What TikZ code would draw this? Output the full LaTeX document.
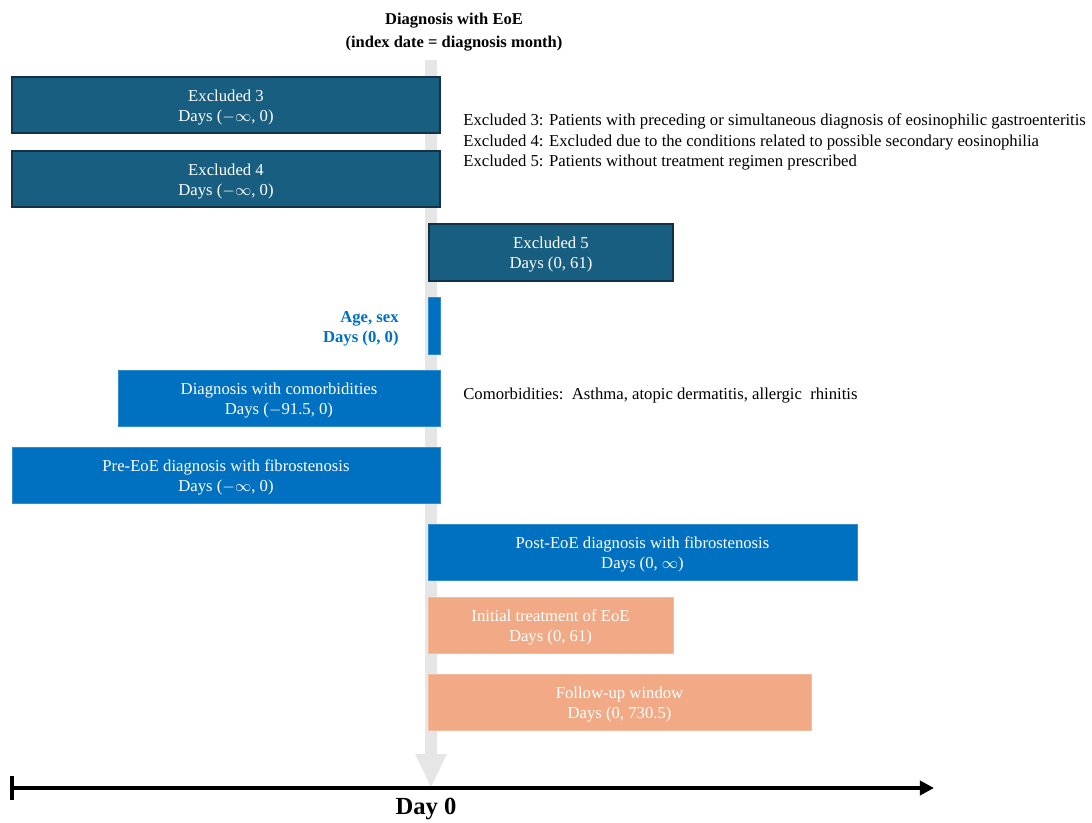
\documentclass[tikz,border=0pt]{standalone}
\usepackage{fontspec}
\setmainfont{Liberation Serif}
\usetikzlibrary{fit,arrows.meta}
\definecolor{exc}{RGB}{23,94,128}
\definecolor{excb}{RGB}{20,50,70}
\definecolor{cblue}{RGB}{0,112,192}
\definecolor{salmon}{RGB}{241,170,133}
\definecolor{shaft}{RGB}{230,230,230}
\tikzset{
  bx/.style={inner sep=0pt},
  bxt/.style={inner sep=0pt, align=center, text=white, yshift=-1.2pt, font=\fontsize{9.5}{11.3}\selectfont},
  exbox/.style={bx, fill=exc, draw=excb, line width=0.8pt},
  bluebox/.style={bx, fill=cblue, draw=cblue!80!white, line width=0.4pt},
  salbox/.style={bx, fill=salmon, draw=salmon!80!white, line width=0.4pt},
  note/.style={anchor=west, align=left, font=\fontsize{9.5}{11.7}\selectfont, inner sep=0pt},
  ttl/.style={font=\bfseries\fontsize{9.4}{13.2}\selectfont, align=center, inner sep=0pt},
}
\begin{document}
\begin{tikzpicture}[x=0.02cm,y=-0.02cm]
\useasboundingbox (0,0) rectangle (1092,822);
% grey index-date arrow
\fill[shaft] (425,60) -- (437,60) -- (437,754) -- (447,754) -- (431,787) -- (415,754) -- (425,754) -- cycle;
% title
\node[ttl] (title) at (454,32) {Diagnosis with EoE\\(index date = diagnosis month)};
% boxes
\node[exbox, fit={(12,77)(440,133)}] (ex3) {};
\node[bxt] (ex3t) at (ex3.center) {Excluded 3\\Days ($-\infty$, 0)};
\node[exbox, fit={(12,151)(440,207)}] (ex4) {};
\node[bxt] (ex4t) at (ex4.center) {Excluded 4\\Days ($-\infty$, 0)};
\node[exbox, fit={(429,224)(673,281)}] (ex5) {};
\node[bxt] (ex5t) at (ex5.center) {Excluded 5\\Days (0, 61)};
\node[bluebox, fit={(428,297)(440,354)}] (age) {};
\node[anchor=east, align=right, inner sep=0pt, text=cblue, font=\bfseries\fontsize{9.5}{11.3}\selectfont] (agelbl) at (399,329) {Age, sex\\Days (0, 0)};
\node[bluebox, fit={(118,370)(440,426)}] (com) {};
\node[bxt] (comt) at (com.center) {Diagnosis with comorbidities\\Days ($-$91.5, 0)};
\node[bluebox, fit={(12,447)(440,503)}] (pre) {};
\node[bxt] (pret) at (pre.center) {Pre-EoE diagnosis with fibrostenosis\\Days ($-\infty$, 0)};
\node[bluebox, fit={(428,524)(857,580)}] (post) {};
\node[bxt] (postt) at (post.center) {Post-EoE diagnosis with fibrostenosis\\Days (0, $\infty$)};
\node[salbox, fit={(428,597)(673,653)}] (init) {};
\node[bxt] (initt) at (init.center) {Initial treatment of EoE\\Days (0, 61)};
\node[salbox, fit={(428,674)(811,730)}] (fu) {};
\node[bxt] (fut) at (fu.center) {Follow-up window\\Days (0, 730.5)};
% notes
\node[note] (notes) at (463,142) {Excluded 3: Patients with preceding or simultaneous diagnosis of eosinophilic gastroenteritis\\Excluded 4: Excluded due to the conditions related to possible secondary eosinophilia\\Excluded 5: Patients without treatment regimen prescribed};
\node[note] (comnote) at (463,396) {Comorbidities:\ \ Asthma, atopic dermatitis, allergic\ \ rhinitis};
% timeline
\coordinate (t0) at (12,788);
\coordinate (t1) at (934,788);
\draw[line width=2.2pt, -{Triangle[length=8pt,width=8pt]}] (t0) -- (t1);
\draw[line width=2.2pt] (12,776) -- (12,800);
\node[ttl, font=\bfseries\fontsize{14}{16}\selectfont] (day0) at (426,809) {Day 0};
\end{tikzpicture}
\end{document}
